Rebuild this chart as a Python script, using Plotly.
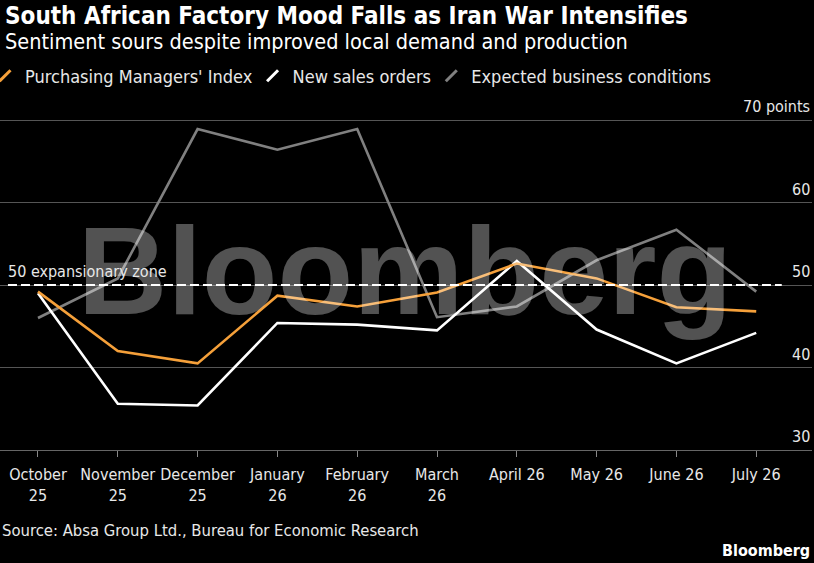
import plotly.graph_objects as go

# months on the x axis
months = ["October<br>25", "November<br>25", "December<br>25", "January<br>26",
          "February<br>26", "March<br>26", "April 26", "May 26", "June 26", "July 26"]
x_pos = list(range(len(months)))

pmi = [49.2, 42.0, 40.5, 48.7, 47.4, 49.1, 52.6, 50.8, 47.3, 46.8]
new_sales = [49.0, 35.6, 35.4, 45.4, 45.2, 44.5, 52.9, 44.6, 40.5, 44.2]
expected = [46.0, 50.8, 68.9, 66.4, 68.9, 46.1, 47.4, 53.0, 56.7, 49.2]

y_ticks = [30, 40, 50, 60, 70]
y_labels = ["30", "40", "50", "60", "70 points"]

FONT = "DejaVu Sans Condensed, DejaVu Sans, sans-serif"
ORANGE = "#f5a03a"
WHITE = "#ffffff"
GRAY = "#808080"

fig = go.Figure()

series = [("Purchasing Managers' Index", pmi, ORANGE),
          ("New sales orders", new_sales, WHITE),
          ("Expected business conditions", expected, GRAY)]

for name, vals, col in reversed(series):
    fig.add_trace(go.Scatter(x=x_pos, y=vals, mode="lines", name=name,
                             line=dict(color=col, width=2.6), showlegend=False))

# legend entries with slash icons (extra spaces to widen the gap between items)
for i, (name, vals, col) in enumerate(series):
    label = name + ("&nbsp;&nbsp;" if i < len(series) - 1 else "")
    fig.add_trace(go.Scatter(x=[None], y=[None], mode="markers", name=label,
                             marker=dict(symbol="line-ne-open", size=11, color=col,
                                         line=dict(color=col, width=3))))

# translucent watermark drawn over the lines
fig.add_trace(go.Scatter(x=[4.6], y=[50.3], mode="text", text=["Bloomberg"],
                         textfont=dict(family="Liberation Sans, Arial, sans-serif", size=124,
                                       color="rgba(255,255,255,0.32)", weight="bold"),
                         hoverinfo="skip", showlegend=False))

# 50 line
fig.add_shape(type="line", xref="x", yref="y", x0=-0.376, x1=9.32, y0=50, y1=50,
              line=dict(color="white", width=2, dash="9px,4px"))
fig.add_annotation(x=-0.40, y=50, xref="x", yref="y", text="50 expansionary zone",
                   showarrow=False, xanchor="left", yanchor="bottom", yshift=2,
                   font=dict(family=FONT, size=16, color="#e8e8e8"))

# y labels sit above their gridlines at the right edge
for v, lab in zip(y_ticks, y_labels):
    fig.add_annotation(x=1.0, y=v, xref="paper", yref="y", text=lab, showarrow=False,
                       xanchor="right", yanchor="bottom", yshift=2,
                       font=dict(family=FONT, size=16, color="#e8e8e8"))

fig.update_layout(
    width=814, height=563,
    paper_bgcolor="black", plot_bgcolor="black",
    margin=dict(l=0, r=2, t=95, b=113),
    font=dict(family=FONT, color="#e8e8e8", size=16),
    legend=dict(orientation="h", x=0, xanchor="left", y=1.0535, yanchor="middle",
                font=dict(family=FONT, size=18, color="#e8e8e8"), indentation=-15,
                itemwidth=30, bgcolor="rgba(0,0,0,0)"),
    showlegend=True,
    xaxis=dict(range=[-0.476, 9.699], tickvals=x_pos, ticktext=months, automargin=False,
               showgrid=False, zeroline=False, showline=True, linecolor="#666",
               linewidth=1, ticks="outside", ticklen=6, tickcolor="#888",
               ticklabelstandoff=4,
               tickfont=dict(family=FONT, size=16, color="#e8e8e8")),
    yaxis=dict(range=[30, 73.03], side="right", tickvals=y_ticks, showticklabels=False,
               showgrid=True, gridcolor="#555",
               gridwidth=1, zeroline=False, showline=False, ticks="", automargin=False),
)

# title and subtitle
fig.add_annotation(x=0.004, y=1.2225, xref="paper", yref="paper", xanchor="left", yanchor="middle",
                   text="<b>South African Factory Mood Falls as Iran War Intensifies</b>",
                   showarrow=False, font=dict(family=FONT, size=24, color="white"))
fig.add_annotation(x=0.004, y=1.152, xref="paper", yref="paper", xanchor="left", yanchor="middle",
                   text="Sentiment sours despite improved local demand and production",
                   showarrow=False, font=dict(family=FONT, size=21.5, color="white"))

fig.add_annotation(x=0.0, y=-0.2254, xref="paper", yref="paper", xanchor="left", yanchor="middle",
                   text="Source: Absa Group Ltd., Bureau for Economic Research", showarrow=False,
                   font=dict(family=FONT, size=16.5, color="#e8e8e8"))
fig.add_annotation(x=1.0, y=-0.2817, xref="paper", yref="paper", xanchor="right", yanchor="middle",
                   text="<b>Bloomberg</b>", showarrow=False,
                   font=dict(family=FONT, size=16, color="white"))

fig.write_html("out.html", config={"displayModeBar": False},
               post_script="document.body.style.margin='0px';")
